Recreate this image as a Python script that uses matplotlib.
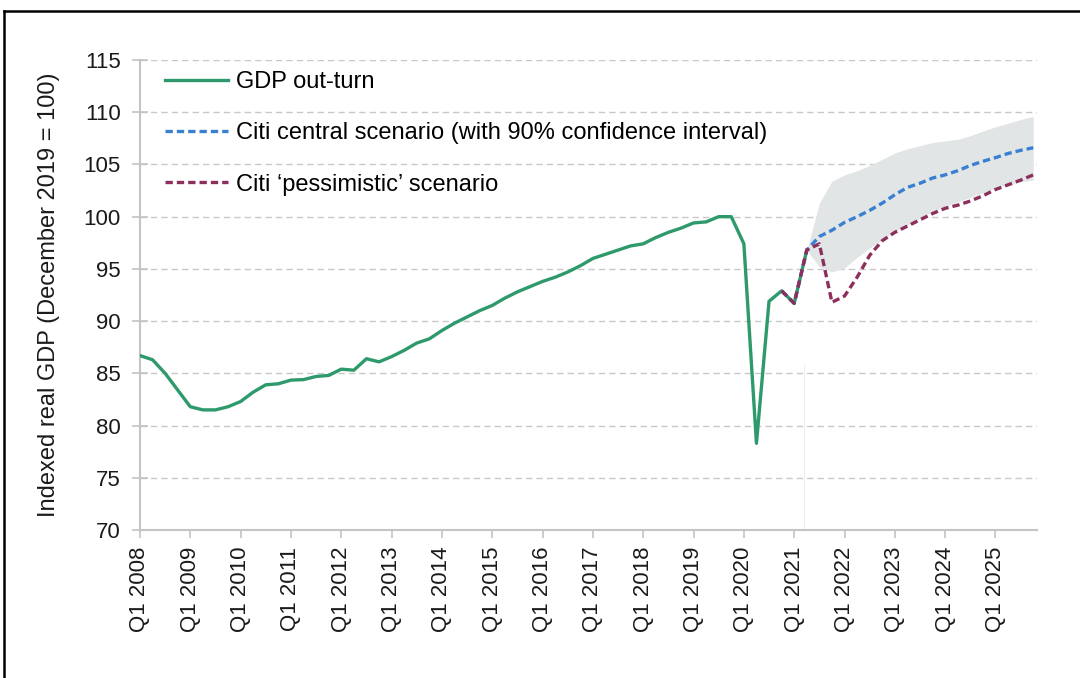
import matplotlib
matplotlib.use('Agg')
import matplotlib.pyplot as plt
from matplotlib.lines import Line2D

plt.rcParams['font.family'] = ['Liberation Sans', 'DejaVu Sans']

# GDP out-turn, quarterly from Q1 2008 (index 0) to Q2 2021
gdp = [86.7, 86.3, 85.0, 83.4, 81.8, 81.5, 81.5, 81.8, 82.3, 83.2,
       83.9, 84.0, 84.35, 84.4, 84.7, 84.8, 85.4, 85.3, 86.4, 86.1,
       86.6, 87.2, 87.9, 88.3, 89.1, 89.8, 90.4, 91.0, 91.5, 92.2,
       92.8, 93.3, 93.8, 94.2, 94.7, 95.3, 96.0, 96.4, 96.8, 97.2,
       97.4, 98.0, 98.5, 98.9, 99.4, 99.5, 100.0, 100.0, 97.4, 78.3,
       91.9, 92.9, 91.7, 96.8]

# scenarios start at Q4 2020 (index 51)
scen_start = 51
central = [92.9, 91.7, 96.8, 98.1, 98.7, 99.45, 100.0, 100.6, 101.3, 102.1,
           102.8, 103.2, 103.7, 104.0, 104.4, 104.9, 105.3, 105.65, 106.05,
           106.35, 106.6]
pessimistic = [92.9, 91.7, 96.8, 97.4, 91.8, 92.4, 94.2, 96.3, 97.7, 98.5,
               99.1, 99.7, 100.3, 100.8, 101.1, 101.5, 102.0, 102.6, 103.05,
               103.5, 104.0]

# 90% confidence interval from Q2 2021 (index 53)
band_start = 53
band_upper = [96.8, 101.3, 103.4, 104.0, 104.4, 104.9, 105.5, 106.1, 106.5,
              106.8, 107.1, 107.25, 107.4, 107.75, 108.2, 108.6, 108.95,
              109.3, 109.6]
band_lower = [96.8, 95.2, 94.7, 95.1, 96.1, 97.0, 97.8, 98.6, 99.2, 99.9,
              100.5, 101.0, 101.4, 101.85, 102.3, 102.75, 103.05, 103.35,
              103.5]

years = list(range(2008, 2026))
tick_labels = ['Q1 %d' % y for y in years]

fig = plt.figure(figsize=(10.8, 6.78), dpi=100)
ax = fig.add_axes([0.1296, 0.2183, 0.8306, 0.6932])

x_gdp = list(range(len(gdp)))
x_scen = list(range(scen_start, scen_start + len(central)))
x_band = list(range(band_start, band_start + len(band_upper)))

ax.fill_between(x_band, band_lower, band_upper, color='#e1e5e5', lw=0, zorder=1)
ax.axvline(52.8, ymin=0, ymax=0.35, color='#eeeeee', lw=0.8, zorder=0)

ax.plot(x_gdp, gdp, color='#2e9a6c', lw=2.4, label='GDP out-turn', zorder=3)
ax.plot(x_scen, central, color='#3a80d2', lw=2.4, dashes=(2.2, 1.2),
        label='Citi central scenario (with 90% confidence interval)', zorder=4)
ax.plot(x_scen, pessimistic, color='#8c2f5c', lw=2.4, dashes=(2.2, 1.2),
        label='Citi \u2018pessimistic\u2019 scenario', zorder=5)

ax.set_xlim(0, 71.3)
ax.set_ylim(70, 115)
ax.set_yticks(range(70, 116, 5))
ax.set_xticks(range(0, 4 * len(years), 4))
ax.set_xticklabels(tick_labels, rotation=90)

ax.yaxis.grid(True, color='#c8c8c8', lw=1.0, dashes=(4.6, 2.9))
ax.set_axisbelow(True)
for s in ['top', 'right']:
    ax.spines[s].set_visible(False)
for s in ['left', 'bottom']:
    ax.spines[s].set_color('#c4c4c4')
    ax.spines[s].set_linewidth(1.5)
ax.tick_params(axis='y', direction='inout', length=12, width=1.2, color='#c4c4c4',
               labelsize=16, pad=8, labelcolor='#1a1a1a')
ax.tick_params(axis='x', direction='out', length=6, width=1.2, color='#c4c4c4',
               labelsize=16, pad=6, labelcolor='#1a1a1a')

ax.set_ylabel('Indexed real GDP (December 2019 = 100)', fontsize=17,
              color='#1a1a1a', labelpad=17)

ax.legend(loc='upper left', bbox_to_anchor=(16 / 897, 1 - 2 / 470), frameon=False,
          fontsize=17, handlelength=2.67, handletextpad=0.3,
          labelspacing=1.23, borderaxespad=0.0, borderpad=0.4)

# frame of the original figure (top and left edges)
fig.add_artist(Line2D([4 / 1080, 1.0], [1 - 11 / 678, 1 - 11 / 678],
                      transform=fig.transFigure, color='black', lw=1.8))
fig.add_artist(Line2D([4 / 1080, 4 / 1080], [0.0, 1 - 11 / 678],
                      transform=fig.transFigure, color='black', lw=1.8))

fig.savefig('out.png', dpi=100)
